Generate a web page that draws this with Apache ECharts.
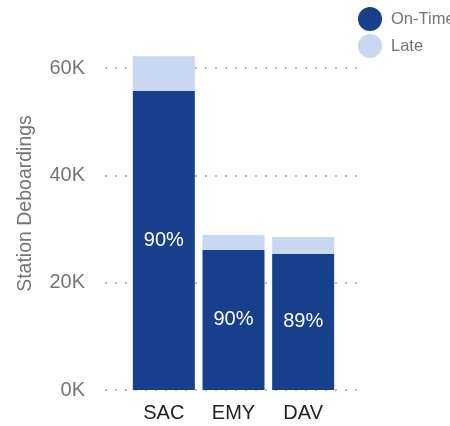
<!DOCTYPE html>
<html><head><meta charset="utf-8">
<script src="https://cdn.jsdelivr.net/npm/echarts@6/dist/echarts.min.js"></script>
<style>html,body{margin:0;padding:0;background:#fff}#c{width:450px;height:426px}</style>
</head><body><div id="c"></div>
<script>
const categories = ['SAC', 'EMY', 'DAV'];
const onTime = [55700, 26100, 25400];
const late = [6500, 2800, 3100];
const yTicks = [0, 20000, 40000, 60000];
const seriesNames = ['On-Time', 'Late'];

const chart = echarts.init(document.getElementById('c'), null, {renderer: 'canvas'});
const font = 'Liberation Sans, Arial, sans-serif';
chart.setOption({
  animation: false,
  textStyle: {fontFamily: font},
  legend: {
    data: seriesNames, orient: 'vertical', left: 353, top: 2,
    icon: 'circle', itemWidth: 24, itemHeight: 24, itemGap: 3,
    textStyle: {color: '#757575', fontSize: 16.5, fontFamily: font, padding: [0, 0, 0, 4]}
  },
  grid: [
    {left: 105, right: 88, top: 68, bottom: 36},
    {left: 129, right: 112, top: 68, bottom: 36}
  ],
  xAxis: [
    {gridIndex: 0, type: 'category', data: categories, show: false},
    {gridIndex: 1, type: 'category', data: categories,
     axisLine: {show: false}, axisTick: {show: false},
     axisLabel: {color: '#222', fontSize: 20, margin: 13, fontFamily: font}}
  ],
  yAxis: [
    {gridIndex: 0, type: 'value', min: yTicks[0], max: yTicks[yTicks.length - 1], interval: yTicks[1] - yTicks[0],
     name: 'Station Deboardings', nameLocation: 'middle', nameGap: 69,
     nameTextStyle: {color: '#757575', fontSize: 19.5, fontFamily: font, padding: [0, 0, 0, 51]},
     axisLine: {show: false}, axisTick: {show: false},
     axisLabel: {color: '#757575', fontSize: 20, margin: 20, fontFamily: font,
       formatter: v => (v / 1000) + 'K'},
     splitLine: {show: true, lineStyle: {color: '#bbbbbb', width: 2, type: [2, 8]}}},
    {gridIndex: 1, type: 'value', min: yTicks[0], max: yTicks[yTicks.length - 1], interval: yTicks[1] - yTicks[0], show: false,
     splitLine: {show: false}}
  ],
  series: [
    {name: seriesNames[0], type: 'bar', stack: 't', xAxisIndex: 1, yAxisIndex: 1, data: onTime,
     barWidth: 62, clip: false, itemStyle: {color: '#173f8c'},
     label: {show: true, position: 'inside', color: '#fff', fontSize: 20, fontFamily: font,
       formatter: p => Math.round(100 * onTime[p.dataIndex] / (onTime[p.dataIndex] + late[p.dataIndex])) + '%'}},
    {name: seriesNames[1], type: 'bar', stack: 't', xAxisIndex: 1, yAxisIndex: 1, data: late,
     barWidth: 62, clip: false, itemStyle: {color: '#c9d8f0'}}
  ]
});
</script></body></html>
